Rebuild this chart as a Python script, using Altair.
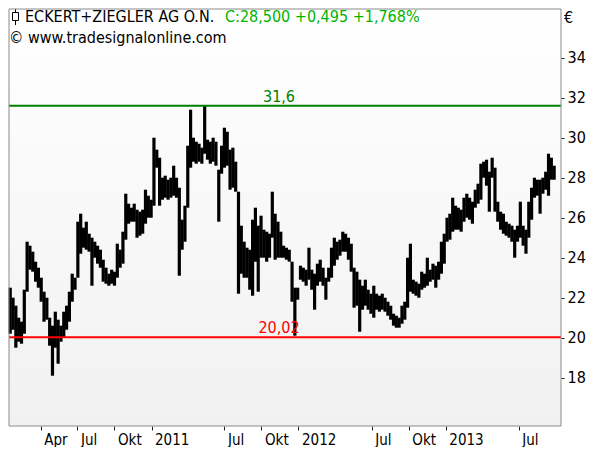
import altair as alt
import pandas as pd

# ---------------- data ----------------
START_WEEK = "2010-01-15"   # weekly bars (Fridays)
HIGH = [22.5, 22.0, 21.6, 21.0, 20.8, 22.4, 24.8, 24.6, 24.3, 23.8,
        23.5, 23.0, 22.3, 22.0, 21.0, 20.6, 21.3, 20.9, 20.6, 21.3,
        21.6, 22.3, 23.2, 23.0, 25.8, 26.2, 25.5, 25.8, 25.2, 25.0,
        24.8, 24.6, 24.4, 23.9, 23.5, 23.2, 23.4, 23.3, 24.7, 24.4,
        25.3, 27.2, 26.7, 26.5, 26.7, 26.4, 26.3, 26.4, 27.4, 27.1,
        26.9, 30.0, 29.4, 29.0, 28.0, 28.1, 27.9, 28.0, 28.6, 28.0,
        27.5, 25.9, 26.6, 29.6, 31.4, 30.0, 29.8, 29.7, 29.5, 31.6,
        29.9, 29.8, 30.0, 29.8, 28.4, 29.6, 30.5, 30.3, 29.4, 29.5,
        28.8, 27.3, 25.6, 24.8, 24.5, 24.4, 25.9, 26.5, 25.6, 26.1,
        25.4, 25.3, 25.2, 27.3, 26.2, 25.8, 25.3, 24.6, 24.5, 24.4,
        23.8, 22.5, 22.5, 23.6, 23.5, 23.4, 24.5, 23.4, 23.2, 23.7,
        23.9, 23.5, 23.0, 23.5, 24.5, 25.0, 24.8, 24.9, 25.3, 25.2,
        25.0, 24.7, 23.5, 23.3, 22.9, 22.6, 22.9, 22.4, 22.2, 22.6,
        22.2, 22.1, 22.2, 22.0, 21.8, 21.6, 21.2, 21.1, 21.0, 21.6,
        21.8, 24.0, 24.7, 22.9, 22.8, 22.7, 23.3, 23.2, 24.0, 23.4,
        23.7, 23.6, 23.8, 24.8, 25.2, 26.0, 26.2, 27.0, 26.6, 26.5,
        26.4, 27.0, 27.2, 27.0, 26.8, 27.4, 27.7, 28.7, 28.8, 28.9,
        28.3, 29.0, 28.5, 26.8, 26.3, 26.2, 25.8, 25.7, 25.6, 25.4,
        25.6, 26.8, 25.6, 25.4, 26.8, 27.5, 28.0, 27.9, 27.9, 28.0,
        28.3, 29.2, 29.0, 28.6]
LOW = [20.2, 20.4, 19.5, 19.8, 19.7, 20.2, 22.3, 23.4, 23.3, 22.8,
       22.5, 21.8, 20.8, 20.9, 19.6, 18.1, 19.5, 18.7, 19.8, 20.0,
       20.4, 20.8, 21.8, 22.4, 23.0, 24.2, 24.5, 24.4, 24.3, 22.6,
       24.0, 23.7, 23.5, 22.8, 22.7, 22.6, 22.7, 22.6, 23.0, 23.5,
       23.7, 24.9, 25.7, 25.8, 25.8, 25.0, 25.1, 25.2, 25.7, 26.0,
       26.0, 26.6, 28.5, 26.6, 26.9, 27.0, 26.9, 27.0, 27.1, 27.0,
       23.1, 24.4, 24.8, 26.5, 28.5, 28.8, 28.7, 28.8, 28.7, 29.2,
       28.9, 28.7, 28.8, 28.6, 25.8, 28.2, 28.5, 28.6, 27.4, 27.5,
       27.3, 22.2, 23.2, 23.0, 23.0, 22.4, 22.1, 23.8, 22.3, 24.0,
       24.0, 23.8, 24.0, 25.0, 23.9, 24.0, 24.0, 24.0, 23.9, 23.8,
       21.8, 20.1, 21.9, 22.9, 22.8, 22.6, 22.9, 22.4, 21.4, 22.6,
       22.8, 22.6, 21.9, 22.8, 23.0, 23.6, 23.9, 24.1, 24.3, 24.3,
       23.9, 23.3, 21.5, 21.6, 20.3, 21.4, 21.6, 21.4, 21.2, 21.0,
       21.4, 21.3, 21.4, 21.3, 21.1, 20.9, 20.6, 20.5, 20.5, 20.7,
       20.9, 21.5, 22.3, 22.2, 22.1, 22.0, 22.4, 22.5, 22.6, 22.8,
       22.9, 22.5, 22.9, 23.2, 23.7, 24.8, 24.9, 25.3, 25.4, 25.4,
       25.3, 25.8, 26.0, 25.9, 25.7, 26.5, 26.7, 26.9, 28.0, 27.6,
       26.3, 28.0, 26.3, 25.8, 25.4, 25.2, 25.1, 25.0, 24.8, 24.0,
       24.8, 25.0, 24.6, 24.2, 25.0, 25.9, 27.0, 27.1, 26.2, 27.2,
       27.4, 27.1, 27.9, 27.9]

TICK_DATES = ["2010-04-01", "2010-07-01", "2010-10-01", "2011-01-01",
              "2011-07-01", "2011-10-01", "2012-01-01", "2012-07-01",
              "2012-10-01", "2013-01-01", "2013-07-01"]
TICK_LABELS = ["Apr", "Jul", "Okt", "2011", "Jul", "Okt", "2012",
               "Jul", "Okt", "2013", "Jul"]
Y_TICKS = [18, 20, 22, 24, 26, 28, 30, 32, 34]

RESISTANCE = [31.6]
RESISTANCE_LABEL = ["31,6"]
SUPPORT = [20.02]
SUPPORT_LABEL = ["20,02"]

TITLE_NAME = "ECKERT+ZIEGLER AG O.N."
TITLE_QUOTE = "C:28,500 +0,495 +1,768%"
TITLE_SOURCE = "\u00a9 www.tradesignalonline.com"
CURRENCY = "\u20ac"

X_DOMAIN = ["2010-01-12", "2013-10-14"]
Y_DOMAIN = [15.585, 36.435]

# ---------------- layout ----------------
W, H = 552, 417
FONT = "DejaVu Sans Condensed"

dates = pd.date_range(START_WEEK, periods=len(HIGH), freq="7D").strftime("%Y-%m-%d")
bars = pd.DataFrame({"date": dates, "high": HIGH, "low": LOW})


def dt(s):
    y, m, d = (int(v) for v in s.split("-"))
    return alt.DateTime(year=y, month=m, date=d, utc=True)


label_expr = ""
for d, lab in zip(TICK_DATES, TICK_LABELS):
    label_expr += f"utcFormat(datum.value, '%Y-%m') == '{d[:7]}' ? '{lab}' : "
label_expr += "''"

x_scale = alt.Scale(type="utc", domain=[dt(X_DOMAIN[0]), dt(X_DOMAIN[1])])
y_scale = alt.Scale(domain=Y_DOMAIN, nice=False, zero=False)
y_axis = alt.Axis(values=Y_TICKS, orient="right", title=None, tickSize=3,
                  labelPadding=3, domain=False, grid=False, labelFontSize=16,
                  labelFont=FONT, labelColor="black", tickColor="#222222",
                  labelBaseline="middle")

one = pd.DataFrame({"k": [0]})

background = alt.Chart(one).mark_rect(
    color=alt.LinearGradient(
        gradient="linear", x1=0, x2=0, y1=0, y2=1,
        stops=[alt.GradientStop(color="#ffffff", offset=0),
               alt.GradientStop(color="#f1f1f1", offset=1)],
    )
).encode(x=alt.value(0), x2=alt.value(W), y=alt.value(0), y2=alt.value(H))

price = alt.Chart(bars).mark_rule(color="black", strokeWidth=3.2).encode(
    x=alt.X("date:T", scale=x_scale,
            axis=alt.Axis(values=[dt(d) for d in TICK_DATES], labelExpr=label_expr,
                          title=None, orient="bottom", tickSize=4, labelAlign="left",
                          labelOffset=3, labelPadding=2, domain=False, grid=False,
                          labelFontSize=15, labelFont=FONT, labelColor="black",
                          tickColor="#222222")),
    y=alt.Y("low:Q", scale=y_scale, axis=y_axis),
    y2="high:Q",
)

res_df = pd.DataFrame({"low": RESISTANCE, "t": RESISTANCE_LABEL})
sup_df = pd.DataFrame({"low": SUPPORT, "t": SUPPORT_LABEL})

res_line = alt.Chart(res_df).mark_rule(color="#008000", strokeWidth=2).encode(
    y=alt.Y("low:Q", scale=y_scale, axis=y_axis))
sup_line = alt.Chart(sup_df).mark_rule(color="#ff0000", strokeWidth=2).encode(
    y=alt.Y("low:Q", scale=y_scale, axis=y_axis))
res_text = alt.Chart(res_df).mark_text(
    color="#008000", font=FONT, fontSize=16, align="center", baseline="bottom", dy=-1
).encode(x=alt.value(270), y=alt.Y("low:Q", scale=y_scale, axis=y_axis), text="t:N")
sup_text = alt.Chart(sup_df).mark_text(
    color="#ff0000", font=FONT, fontSize=16, align="center", baseline="bottom", dy=-1
).encode(x=alt.value(270), y=alt.Y("low:Q", scale=y_scale, axis=y_axis), text="t:N")

# header texts
t_name = alt.Chart(one).mark_text(
    text=TITLE_NAME, font=FONT, fontSize=16, color="black", align="left",
    baseline="alphabetic").encode(x=alt.value(16), y=alt.value(13))
t_quote = alt.Chart(one).mark_text(
    text=TITLE_QUOTE, font=FONT, fontSize=16, color="#00b400", align="left",
    baseline="alphabetic").encode(x=alt.value(216), y=alt.value(13))
t_src = alt.Chart(one).mark_text(
    text=TITLE_SOURCE, font=FONT, fontSize=16, color="black", align="left",
    baseline="alphabetic").encode(x=alt.value(0), y=alt.value(34))
t_cur = alt.Chart(one).mark_text(
    text=CURRENCY, font=FONT, fontSize=16, color="black", align="left",
    baseline="alphabetic").encode(x=alt.value(W + 3), y=alt.value(13.5))

# small candlestick icon
icon_wick = alt.Chart(one).mark_rule(color="black", strokeWidth=1).encode(
    x=alt.value(6.5), y=alt.value(0), y2=alt.value(16))
icon_body = alt.Chart(one).mark_rect(fill="white", stroke="black", strokeWidth=1).encode(
    x=alt.value(3.5), x2=alt.value(9.5), y=alt.value(3.5), y2=alt.value(11.5))

frame = alt.Chart(one).mark_rect(fillOpacity=0, stroke="#8a8a8a", strokeWidth=1).encode(
    x=alt.value(0), x2=alt.value(W), y=alt.value(0), y2=alt.value(H))

chart = alt.layer(
    background, price, res_line, sup_line, res_text, sup_text,
    t_name, t_quote, t_src, t_cur, icon_wick, icon_body, frame,
).properties(
    width=W, height=H, padding=0, background="white"
).configure_view(stroke=None)

chart.save("out.html", embed_options={"renderer": "svg", "actions": False})
